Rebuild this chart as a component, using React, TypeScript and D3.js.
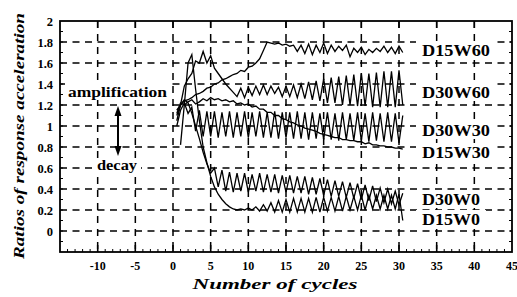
import React from 'react';
import * as d3 from 'd3';

const cycles = [0.5,1,1.5,2,2.5,3,3.5,4,4.5,5,5.5,6,6.5,7,7.5,8,8.5,9,9.5,10,10.5,11,11.5,12,12.5,13,13.5,14,14.5,15,15.5,16,16.5,17,17.5,18,18.5,19,19.5,20,20.5,21,21.5,22,22.5,23,23.5,24,24.5,25,25.5,26,26.5,27,27.5,28,28.5,29,29.5,30,30.5];

const D15W60 = [1.15,1.2,1.24,1.25,1.27,1.3,1.31,1.33,1.36,1.37,1.4,1.41,1.44,1.45,1.47,1.49,1.5,1.53,1.52,1.56,1.57,1.6,1.64,1.72,1.8,1.79,1.78,1.79,1.77,1.78,1.76,1.77,1.71,1.77,1.69,1.78,1.68,1.77,1.7,1.79,1.69,1.77,1.71,1.76,1.72,1.77,1.66,1.74,1.7,1.75,1.68,1.73,1.7,1.74,1.71,1.76,1.7,1.75,1.69,1.76,1.7];
const D30W60 = [1.1,1.2,1.38,1.45,1.5,1.62,1.6,1.71,1.6,1.67,1.55,1.5,1.45,1.4,1.36,1.32,1.28,1.36,1.27,1.37,1.29,1.38,1.3,1.39,1.3,1.38,1.31,1.37,1.28,1.38,1.28,1.39,1.27,1.4,1.26,1.42,1.25,1.43,1.24,1.45,1.22,1.46,1.22,1.47,1.2,1.48,1.2,1.49,1.19,1.5,1.19,1.5,1.18,1.51,1.18,1.52,1.18,1.52,1.18,1.53,1.2];
const D30W30 = [1.0,1.15,1.22,1.12,1.18,0.95,1.15,0.9,1.14,0.9,1.14,0.89,1.13,0.9,1.14,0.89,1.13,0.9,1.14,0.89,1.13,0.9,1.14,0.89,1.13,0.89,1.14,0.88,1.13,0.89,1.13,0.88,1.14,0.88,1.13,0.87,1.13,0.88,1.12,0.87,1.13,0.87,1.12,0.86,1.13,0.87,1.12,0.86,1.13,0.86,1.12,0.85,1.13,0.86,1.12,0.85,1.13,0.85,1.12,0.84,1.1];
const D15W30 = [1.12,1.22,1.2,1.23,1.25,1.21,1.23,1.26,1.24,1.27,1.25,1.26,1.24,1.25,1.23,1.24,1.21,1.22,1.2,1.21,1.18,1.19,1.16,1.16,1.13,1.13,1.1,1.1,1.07,1.06,1.04,1.03,1.01,1.0,0.98,0.97,0.96,0.95,0.93,0.92,0.91,0.9,0.89,0.89,0.87,0.87,0.86,0.86,0.85,0.85,0.83,0.84,0.82,0.82,0.81,0.81,0.8,0.8,0.79,0.79,0.78];
const D30W0 = [1.05,1.2,1.25,1.22,1.12,1.0,0.88,0.75,0.64,0.55,0.6,0.42,0.58,0.38,0.56,0.37,0.55,0.38,0.55,0.37,0.54,0.38,0.55,0.37,0.54,0.37,0.54,0.36,0.53,0.37,0.53,0.36,0.52,0.36,0.52,0.35,0.51,0.35,0.5,0.34,0.49,0.33,0.48,0.33,0.47,0.32,0.46,0.31,0.45,0.3,0.44,0.29,0.43,0.28,0.41,0.27,0.4,0.26,0.38,0.25,0.36];
const D15W0 = [null,0.82,1.2,1.6,1.68,1.35,1.05,0.8,0.65,0.52,0.42,0.35,0.3,0.26,0.23,0.21,0.2,0.21,0.2,0.22,0.2,0.23,0.19,0.25,0.19,0.27,0.18,0.29,0.18,0.3,0.18,0.31,0.18,0.31,0.18,0.31,0.18,0.32,0.18,0.32,0.19,0.32,0.19,0.33,0.19,0.33,0.2,0.33,0.2,0.34,0.2,0.34,0.21,0.34,0.21,0.34,0.21,0.34,0.21,0.35,0.1];

const seriesNames = ['D15W60', 'D30W60', 'D30W30', 'D15W30', 'D30W0', 'D15W0'];
const seriesValues = [D15W60, D30W60, D30W30, D15W30, D30W0, D15W0];

const xTickValues = [-10, -5, 0, 5, 10, 15, 20, 25, 30, 35, 40, 45];
const yTickValues = [0, 0.2, 0.4, 0.6, 0.8, 1, 1.2, 1.4, 1.6, 1.8, 2];

const FONT = "'Liberation Serif', 'Times New Roman', serif";

export default function App() {
  const W = 517, H = 297;
  const L = 60, R = 512, T = 21, B = 252;
  const x = d3.scaleLinear().domain([-15, 45]).range([L, R]);
  const y = d3.scaleLinear().domain([-0.2, 2]).range([B, T]);

  const line = d3.line<[number, number | null]>()
    .defined(d => d[1] !== null && d[1] !== undefined)
    .x(d => x(d[0]))
    .y(d => y(d[1] as number));

  const gridX = d3.range(-10, 41, 5);
  const gridY = d3.range(0, 1.81, 0.2);
  const minorX = d3.range(-14, 45, 1);
  const minorY = d3.range(-0.1, 2, 0.1);

  const labelCy = [50, 92, 130, 152, 199, 219];
  const labelW = [68, 68, 68, 68, 58, 58];

  return (
    <svg width={W} height={H} style={{ position: 'absolute', left: 0, top: 0, background: '#fff' }}
      fontFamily={FONT}>
      <rect x={0} y={0} width={W} height={H} fill="#fff" />
      {gridX.map(v => (
        <line key={'gx' + v} x1={x(v)} x2={x(v)} y1={T} y2={B} stroke="#000" strokeWidth={1.5} strokeDasharray="7,6" />
      ))}
      {gridY.map(v => (
        <line key={'gy' + v} x1={L} x2={R} y1={y(v)} y2={y(v)} stroke="#000" strokeWidth={1.5} strokeDasharray="7,5.5" />
      ))}
      {minorX.map(v => (
        <line key={'mx' + v} x1={x(v)} x2={x(v)} y1={B} y2={B - 3} stroke="#000" strokeWidth={1} />
      ))}
      {minorY.map(v => (
        <g key={'my' + v}>
          <line x1={L} x2={L + 3} y1={y(v)} y2={y(v)} stroke="#000" strokeWidth={1} />
          <line x1={R} x2={R - 3} y1={y(v)} y2={y(v)} stroke="#000" strokeWidth={1} />
        </g>
      ))}
      {gridX.map(v => (
        <g key={'tx' + v}>
          <line x1={x(v)} x2={x(v)} y1={B} y2={B - 7} stroke="#000" strokeWidth={1.5} />
          <line x1={x(v)} x2={x(v)} y1={T} y2={T + 7} stroke="#000" strokeWidth={1.5} />
        </g>
      ))}
      {seriesValues.map((vals, i) => (
        <path key={seriesNames[i]} d={line(cycles.map((c, j) => [c, vals[j]] as [number, number | null])) || ''}
          fill="none" stroke="#000" strokeWidth={1.3} strokeLinejoin="miter" />
      ))}
      <rect x={L} y={T} width={R - L} height={B - T} fill="none" stroke="#000" strokeWidth={1.8} />
      {yTickValues.map(v => (
        <text key={'yl' + v} x={53} y={y(v) + 4.5} textAnchor="end" fontSize={12.5} fontWeight={700}>{String(v)}</text>
      ))}
      {xTickValues.map(v => (
        <text key={'xl' + v} x={x(v)} y={270} textAnchor="middle" fontSize={12} fontWeight={700}>{String(v)}</text>
      ))}
      {seriesNames.map((n, i) => (
        <g key={'lab' + n}>
          <rect x={416} y={labelCy[i] - 9} width={labelW[i] + 12} height={18} fill="#fff" />
          <text x={422} y={labelCy[i] + 6} fontSize={16} fontWeight={700} textLength={labelW[i]} lengthAdjust="spacingAndGlyphs">{n}</text>
        </g>
      ))}
      <rect x={65} y={83} width={106} height={17} fill="#fff" />
      <text x={68} y={97} fontSize={14.5} fontWeight={700} textLength={99} lengthAdjust="spacingAndGlyphs">amplification</text>
      <rect x={93} y={158} width={48} height={16} fill="#fff" />
      <text x={97} y={170} fontSize={14.5} fontWeight={700} textLength={40} lengthAdjust="spacingAndGlyphs">decay</text>
      <line x1={118} x2={118} y1={112} y2={150} stroke="#000" strokeWidth={2} />
      <polygon points="118,106 114.5,116 121.5,116" fill="#000" />
      <polygon points="118,156 114.5,146 121.5,146" fill="#000" />
      <text x={275} y={289} textAnchor="middle" fontSize={14} fontWeight={700} fontStyle="italic" textLength={165} lengthAdjust="spacingAndGlyphs">Number of cycles</text>
      <text transform="translate(24,136) rotate(-90)" textAnchor="middle" fontSize={15} fontWeight={700} fontStyle="italic" textLength={246} lengthAdjust="spacingAndGlyphs">Ratios of response acceleration</text>
    </svg>
  );
}
